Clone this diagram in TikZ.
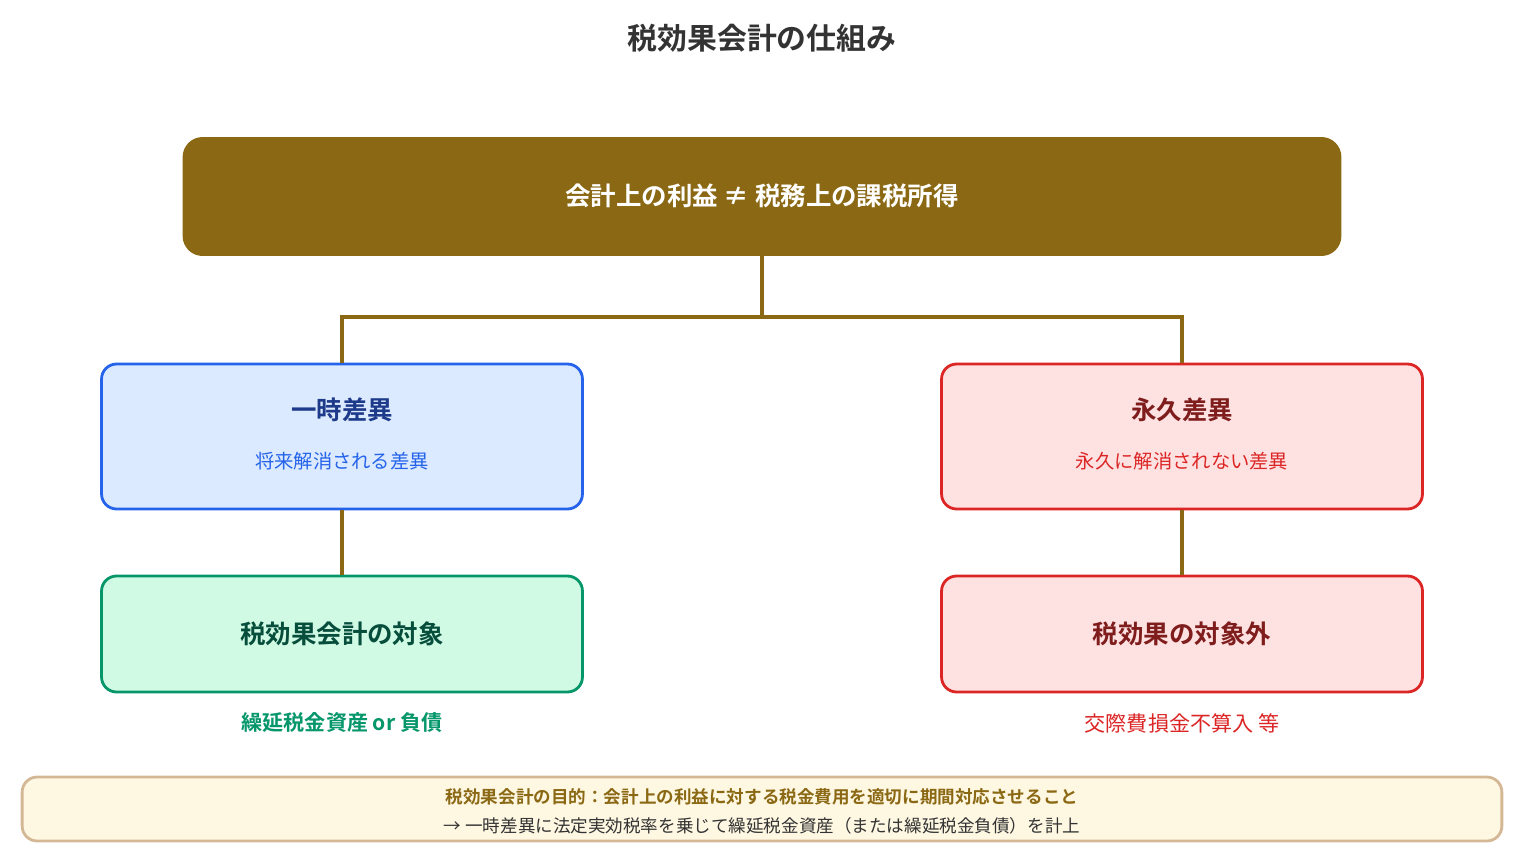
\documentclass[tikz,border=0pt]{standalone}
\usepackage{fontspec}
\setmainfont{Noto Sans CJK JP}
\newfontfamily\jpbold{Noto Sans CJK JP Bold}
\usetikzlibrary{positioning}
\definecolor{brownmain}{HTML}{8B6914}
\definecolor{blueline}{HTML}{2563EB}
\definecolor{bluefill}{HTML}{DBEAFE}
\definecolor{bluetext}{HTML}{1E3A8A}
\definecolor{redline}{HTML}{DC2626}
\definecolor{redfill}{HTML}{FEE2E2}
\definecolor{redtext}{HTML}{7F1D1D}
\definecolor{greenline}{HTML}{059669}
\definecolor{greenfill}{HTML}{D1FAE5}
\definecolor{greentext}{HTML}{064E3B}
\definecolor{notefill}{HTML}{FEF7E2}
\definecolor{noteline}{HTML}{D4B896}
\definecolor{titletext}{HTML}{333333}
\begin{document}
\begin{tikzpicture}[x=0.02cm, y=-0.02cm,
  box/.style={draw, line width=1.6pt, rounded corners=0.3cm, minimum width=9.62cm},
  link/.style={draw=brownmain, line width=1.8pt}]
  \useasboundingbox (0,0) rectangle (1523,862);
  \node[font=\jpbold\fontsize{17}{20}\selectfont, text=titletext] (title) at (762,38) {税効果会計の仕組み};

  % top box
  \node[fill=brownmain, rounded corners=0.4cm, minimum width=23.18cm, minimum height=2.38cm] (gap) at (762,196.5) {};
  \node[font=\jpbold\fontsize{14.5}{17}\selectfont, text=white] (gaptext) at (762,196) {会計上の利益 ≠ 税務上の課税所得};

  % middle boxes
  \node[box, draw=blueline, fill=bluefill, minimum height=2.9cm] (temp) at (342,436.5) {};
  \node[font=\jpbold\fontsize{14.5}{17}\selectfont, text=bluetext] (temptitle) at (342,410) {一時差異};
  \node[font=\fontsize{11}{13}\selectfont, text=blueline] (tempsub) at (342,461) {将来解消される差異};
  \node[box, draw=redline, fill=redfill, minimum height=2.9cm] (perm) at (1182,436.5) {};
  \node[font=\jpbold\fontsize{14.5}{17}\selectfont, text=redtext] (permtitle) at (1182,410) {永久差異};
  \node[font=\fontsize{11}{13}\selectfont, text=redline] (permsub) at (1182,461) {永久に解消されない差異};

  % lower boxes
  \node[box, draw=greenline, fill=greenfill, minimum height=2.32cm, font=\jpbold\fontsize{14.5}{17}\selectfont, text=greentext] (target) at (342,634) {税効果会計の対象};
  \node[box, draw=redline, fill=redfill, minimum height=2.32cm, font=\jpbold\fontsize{14.5}{17}\selectfont, text=redtext] (nontarget) at (1182,634) {税効果の対象外};
  \node[font=\jpbold\fontsize{12}{14}\selectfont, text=greenline] (targetnote) at (342,723) {繰延税金資産 or 負債};
  \node[font=\fontsize{12}{14}\selectfont, text=redline] (nonnote) at (1182,723) {交際費損金不算入 等};

  % connectors
  \coordinate (split) at (762,317);
  \draw[link] (gap.south) -- (split) -- (342,317) -- (temp.north);
  \draw[link] (split) -- (1182,317) -- (perm.north);
  \draw[link] (temp.south) -- (target.north);
  \draw[link] (perm.south) -- (nontarget.north);

  % note
  \node[draw=noteline, fill=notefill, line width=1.6pt, rounded corners=0.3cm, minimum width=29.6cm, minimum height=1.28cm] (note) at (762,809) {};
  \node[font=\jpbold\fontsize{10}{12}\selectfont, text=brownmain] (notehead) at (762,797) {税効果会計の目的：会計上の利益に対する税金費用を適切に期間対応させること};
  \node[font=\fontsize{10}{12}\selectfont, text=titletext] (notebody) at (762,826) {→ 一時差異に法定実効税率を乗じて繰延税金資産（または繰延税金負債）を計上};
\end{tikzpicture}
\end{document}
